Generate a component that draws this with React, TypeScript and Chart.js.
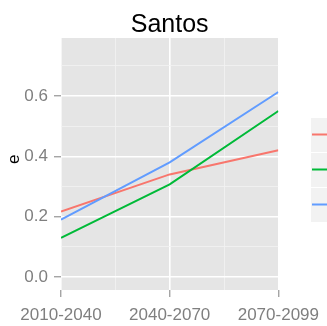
import { useEffect, useRef } from "react";
import { Chart, registerables } from "chart.js";

Chart.register(...registerables);

const categories = ["2010-2040", "2040-2070", "2070-2099"];
const seriesNames = ["A", "B", "C"];
const seriesRed = [0.217, 0.34, 0.42];
const seriesGreen = [0.13, 0.307, 0.55];
const seriesBlue = [0.19, 0.38, 0.613];
const seriesColors = ["#F8766D", "#00BA38", "#619CFF"];
const yMajorTicks = [0, 0.2, 0.4, 0.6];
const yMin = -0.043;
const yMax = 0.792;
const chartTitle = "Santos";
const yTitle = "  e";

const FONT = "'Liberation Sans', Arial, sans-serif";
const isMajorY = (v: number) => yMajorTicks.some((t) => Math.abs(t - v) < 1e-6);
const isMajorX = (v: number) => Math.abs(v - Math.round(v)) < 1e-6;

const panelBg = {
  id: "panelBg",
  beforeDraw(chart: any) {
    const { ctx, chartArea } = chart;
    ctx.save();
    ctx.fillStyle = "#E5E5E5";
    ctx.fillRect(chartArea.left, chartArea.top, chartArea.right - chartArea.left, chartArea.bottom - chartArea.top);
    ctx.restore();
  },
};

const ggLegend = {
  id: "ggLegend",
  afterDraw(chart: any) {
    const { ctx } = chart;
    const ds = chart.data.datasets;
    const x0 = 310;
    const y0 = 117;
    const h = 35;
    ctx.save();
    ds.forEach((d: any, i: number) => {
      ctx.fillStyle = "#F2F2F2";
      ctx.fillRect(x0, y0 + i * h, 40, h);
      ctx.strokeStyle = "#FFFFFF";
      ctx.lineWidth = 1;
      ctx.strokeRect(x0 + 0.5, y0 + i * h + 0.5, 40, h);
      ctx.strokeStyle = d.borderColor;
      ctx.lineWidth = 2;
      ctx.beginPath();
      ctx.moveTo(x0 + 2, y0 + i * h + h / 2);
      ctx.lineTo(x0 + 40, y0 + i * h + h / 2);
      ctx.stroke();
    });
    ctx.restore();
  },
};

export default function App() {
  const ref = useRef<HTMLCanvasElement | null>(null);

  useEffect(() => {
    if (!ref.current) return;
    const series = [seriesRed, seriesGreen, seriesBlue];
    const chart = new Chart(ref.current, {
      type: "line",
      data: {
        datasets: series.map((vals, i) => ({
          label: seriesNames[i],
          data: vals.map((v, j) => ({ x: j, y: v })),
          borderColor: seriesColors[i],
          backgroundColor: seriesColors[i],
          borderWidth: 2,
          pointRadius: 0,
          tension: 0,
          fill: false,
          order: 3 - i,
        })),
      },
      options: {
        animation: false,
        responsive: true,
        maintainAspectRatio: false,
        layout: { padding: { left: 0, right: 43, top: 0, bottom: 0 } },
        plugins: {
          legend: { display: false },
          tooltip: { enabled: false },
          title: {
            display: true,
            text: chartTitle,
            fullSize: false,
            color: "#000000",
            font: { family: FONT, size: 25, weight: "normal", lineHeight: 1 },
            padding: { top: 12.5, bottom: 0.5 },
          },
        },
        scales: {
          x: {
            type: "linear",
            min: 0,
            max: categories.length - 1,
            afterFit: (s: any) => {
              s.height = 36;
            },
            border: { display: false },
            grid: {
              color: (c: any) => (isMajorX(c.tick.value) ? "#FFFFFF" : "#F2F2F2"),
              lineWidth: (c: any) => (isMajorX(c.tick.value) ? 1.6 : 0.8),
              tickColor: (c: any) => (isMajorX(c.tick.value) ? "#7F7F7F" : "rgba(0,0,0,0)"),
              tickLength: 7,
              tickWidth: 1,
            },
            ticks: {
              stepSize: 0.5,
              autoSkip: false,
              maxRotation: 0,
              padding: 8,
              color: "#7F7F7F",
              font: { family: FONT, size: 17 },
              callback: (v: any) => (isMajorX(Number(v)) ? categories[Math.round(Number(v))] : ""),
            },
          },
          y: {
            type: "linear",
            min: yMin,
            max: yMax,
            afterFit: (s: any) => {
              s.width = 61;
            },
            border: { display: false },
            title: {
              display: true,
              text: yTitle,
              color: "#000000",
              font: { family: FONT, size: 17 },
              padding: { top: 4, bottom: 0 },
            },
            grid: {
              color: (c: any) => (isMajorY(c.tick.value) ? "#FFFFFF" : "#F2F2F2"),
              lineWidth: (c: any) => (isMajorY(c.tick.value) ? 1.6 : 0.8),
              tickColor: (c: any) => (isMajorY(c.tick.value) ? "#7F7F7F" : "rgba(0,0,0,0)"),
              tickLength: 7,
              tickWidth: 1,
            },
            ticks: {
              stepSize: 0.1,
              includeBounds: false,
              autoSkip: false,
              padding: 6,
              color: "#7F7F7F",
              font: { family: FONT, size: 17 },
              callback: (v: any) => (isMajorY(Number(v)) ? Number(v).toFixed(1) : ""),
            },
          },
        },
      },
      plugins: [panelBg, ggLegend],
    });
    return () => chart.destroy();
  }, []);

  return (
    <div style={{ position: "absolute", left: 0, top: 0, width: 327, height: 326, background: "#FFFFFF" }}>
      <canvas ref={ref} />
    </div>
  );
}
